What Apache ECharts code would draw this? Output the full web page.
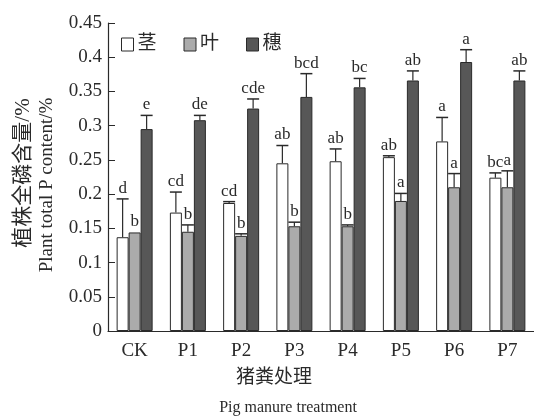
<!DOCTYPE html>
<html>
<head>
<meta charset="utf-8">
<script src="https://cdn.jsdelivr.net/npm/echarts@6/dist/echarts.min.js"></script>
<style>
  html, body { margin: 0; padding: 0; background: #fff; }
  #chart { width: 534px; height: 417px; }
</style>
</head>
<body>
<div id="chart"></div>
<script>
// Pig manure treatments
const categories = ['CK', 'P1', 'P2', 'P3', 'P4', 'P5', 'P6', 'P7'];
const yTicks = ['0', '0.05', '0.1', '0.15', '0.2', '0.25', '0.3', '0.35', '0.4', '0.45'];

// Total P content (%) — stem
const stem = [0.137, 0.173, 0.187, 0.245, 0.248, 0.254, 0.277, 0.224];
const stemErr = [0.056, 0.030, 0.002, 0.026, 0.018, 0.002, 0.035, 0.007];
const stemSig = ['d', 'cd', 'cd', 'ab', 'ab', 'ab', 'a', 'bc'];

// leaf
const leaf = [0.144, 0.145, 0.139, 0.153, 0.153, 0.190, 0.210, 0.210];
const leafErr = [0.000, 0.010, 0.003, 0.006, 0.002, 0.011, 0.020, 0.024];
const leafSig = ['b', 'b', 'b', 'b', 'b', 'a', 'a', 'a'];

// panicle
const panicle = [0.295, 0.308, 0.325, 0.342, 0.356, 0.366, 0.393, 0.366];
const panicleErr = [0.020, 0.007, 0.014, 0.034, 0.013, 0.014, 0.018, 0.014];
const panicleSig = ['e', 'de', 'cde', 'bcd', 'bc', 'ab', 'a', 'ab'];

const SERIF = '"Liberation Serif", "Noto Sans CJK SC", serif';
const INK = '#2a2a2a';
const BAR_W = 12;

const groups = [
  { name: '茎', values: stem, err: stemErr, sig: stemSig, color: '#ffffff' },
  { name: '叶', values: leaf, err: leafErr, sig: leafSig, color: '#ababab' },
  { name: '穗', values: panicle, err: panicleErr, sig: panicleSig, color: '#575757' }
];

const barSeries = groups.map(g => ({
  name: g.name,
  type: 'bar',
  data: g.values,
  barWidth: BAR_W,
  barGap: '0%',
  itemStyle: { color: g.color, borderColor: INK, borderWidth: 1 },
  z: 2
}));

// Upper error whisker and significance letter for every bar
const errSeries = groups.map((g, k) => ({
  type: 'custom',
  coordinateSystem: 'cartesian2d',
  encode: { x: 0, y: 1 },
  z: 3,
  silent: true,
  data: g.values.map((v, i) => [i, v, g.err[i], g.sig[i]]),
  renderItem: function (params, api) {
    const i = api.value(0);
    const v = api.value(1);
    const e = api.value(2);
    const base = api.coord([i, v]);
    const top = api.coord([i, v + e]);
    const x = base[0] + (k - 1) * BAR_W;
    const children = [];
    if (e > 0) {
      children.push({
        type: 'line',
        shape: { x1: x, y1: base[1], x2: x, y2: top[1] },
        style: { stroke: INK, lineWidth: 1.2 }
      });
      children.push({
        type: 'line',
        shape: { x1: x - 6, y1: top[1], x2: x + 6, y2: top[1] },
        style: { stroke: INK, lineWidth: 1.5 }
      });
    }
    children.push({
      type: 'text',
      style: {
        text: g.sig[i],
        x: x,
        y: top[1] - 2,
        textAlign: 'center',
        textVerticalAlign: 'bottom',
        font: '17px ' + SERIF,
        fill: INK
      }
    });
    return { type: 'group', children: children };
  }
}));

const chart = echarts.init(document.getElementById('chart'), null, { renderer: 'canvas' });
chart.setOption({
  animation: false,
  backgroundColor: '#ffffff',
  grid: { left: 108, right: 0, top: 23, bottom: 86, containLabel: false },
  legend: {
    data: groups.map(g => g.name),
    left: 116,
    top: 30,
    itemWidth: 12,
    itemHeight: 13,
    itemGap: 27,
    icon: 'rect',
    itemStyle: { borderColor: INK, borderWidth: 1 },
    textStyle: { fontFamily: SERIF, fontSize: 19, color: INK, padding: [0, 0, 0, -1] }
  },
  xAxis: {
    type: 'category',
    data: categories,
    axisLine: { lineStyle: { color: INK, width: 1.2 } },
    axisTick: { inside: true, length: 8, alignWithLabel: false, lineStyle: { color: INK } },
    axisLabel: { fontFamily: SERIF, fontSize: 19, color: INK, margin: 11 }
  },
  yAxis: {
    type: 'value',
    min: 0,
    max: 0.45,
    interval: 0.05,
    splitLine: { show: false },
    axisLine: { show: true, lineStyle: { color: INK, width: 1.2 } },
    axisTick: { show: true, inside: true, length: 7, lineStyle: { color: INK } },
    axisLabel: {
      fontFamily: SERIF, fontSize: 19, color: INK, margin: 6,
      formatter: (val) => yTicks[Math.round(val / 0.05)]
    }
  },
  graphic: [
    {
      type: 'text', x: 23, y: 173, rotation: Math.PI / 2,
      style: { text: '植株全磷含量/%', font: '21px ' + SERIF, fill: INK, textAlign: 'center', textVerticalAlign: 'middle' }
    },
    {
      type: 'text', x: 47, y: 185, rotation: Math.PI / 2,
      style: { text: 'Plant total P content/%', font: '19px ' + SERIF, fill: INK, textAlign: 'center', textVerticalAlign: 'middle' }
    },
    {
      type: 'text', x: 274, y: 378,
      style: { text: '猪粪处理', font: '19px ' + SERIF, fill: INK, textAlign: 'center', textVerticalAlign: 'middle' }
    },
    {
      type: 'text', x: 288, y: 408,
      style: { text: 'Pig manure treatment', font: '16px ' + SERIF, fill: INK, textAlign: 'center', textVerticalAlign: 'middle' }
    }
  ],
  series: barSeries.concat(errSeries)
});
</script>
</body>
</html>
